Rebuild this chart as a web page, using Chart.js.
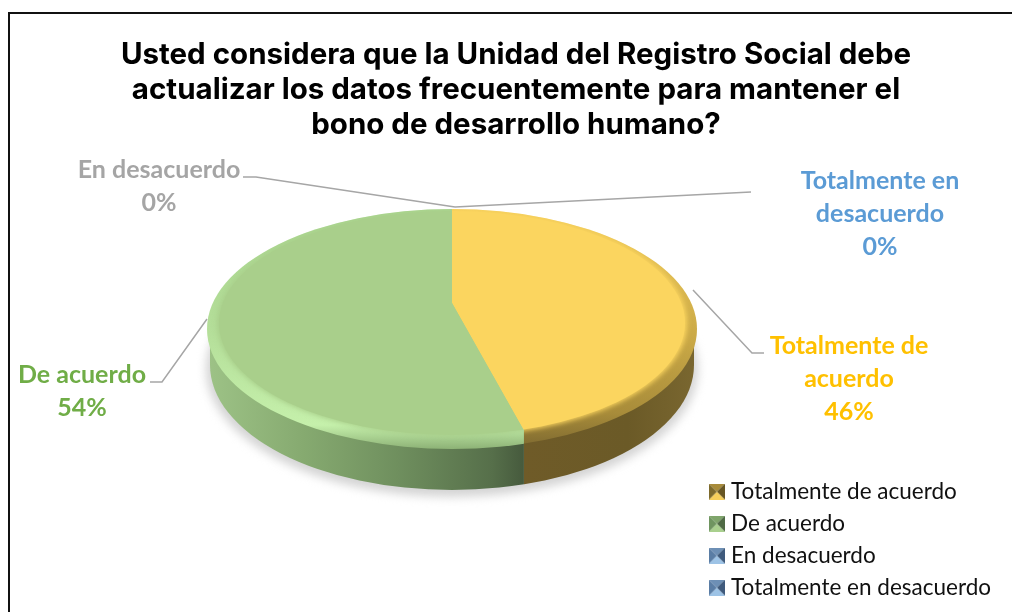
<!DOCTYPE html>
<html lang="es">
<head>
<meta charset="utf-8">
<title>Registro Social</title>
<script src="https://cdn.jsdelivr.net/npm/chart.js@4"></script>
<style>
    html, body { margin: 0; padding: 0; background: #fff; overflow: hidden; }
    #wrap { width: 1012px; height: 612px; }
</style>
</head>
<body>
<div id="wrap"><canvas id="pieChart" width="1012" height="612"></canvas></div>
<script>
// Chart data
const categories = ['Totalmente de acuerdo', 'De acuerdo', 'En desacuerdo', 'Totalmente en desacuerdo'];
const values = [46, 54, 0, 0];
const titleLines = [
    'Usted considera que la Unidad del Registro Social debe',
    'actualizar los datos frecuentemente para mantener el',
    'bono de desarrollo humano?'
];

// Colours
const sliceColors = ['#FBD55F', '#A9CF8B', '#9DC3E6', '#9DC3E6'];
const labelColors = ['#FFC000', '#70AD47', '#A5A5A5', '#5B9BD5'];
const iconColors = [
    ['#A88B3A', '#7D6A2C', '#675624', '#F7CF5B'],
    ['#7FA56B', '#6F9560', '#4F6A45', '#A9D08E'],
    ['#6D8FB5', '#5A7DA5', '#3F5A7C', '#9DC3E6'],
    ['#6D8FB5', '#5A7DA5', '#3F5A7C', '#9DC3E6']
];

// Label text lines and where they sit, leader line for each label
const labelLines = [['Totalmente de', 'acuerdo'], ['De acuerdo'], ['En desacuerdo'], ['Totalmente en', 'desacuerdo']];
const labelCenters = [[849, 346], [82, 375], [159, 170], [880, 181]];
const leaderLines = [
    [[693, 290], [752, 353], [764, 353]],
    [[207, 319], [162, 382], [150, 382]],
    [[243, 177], [256, 177], [455, 207]],
    [[455, 207], [751, 192]]
];

// Tilted pie geometry (ellipses on the page)
const face = { x: 452, y: 323, rx: 235, ry: 113 };
const rim = { x: 452, y: 329, rx: 245, ry: 120 };
const base = { x: 452, y: 365, rx: 242, ry: 125 };
const hub = { x: 452, y: 303, sx: 320, sy: 145.7 };

function ellipsePath(ctx, e) {
    ctx.beginPath();
    ctx.ellipse(e.x, e.y, e.rx, e.ry, 0, 0, Math.PI * 2);
}

// Where the slice border leaves the top face
function borderPoint(angle) {
    const dx = Math.cos(angle) * hub.sx;
    const dy = Math.sin(angle) * hub.sy;
    let t = 0;
    while (t < 1 && Math.pow((hub.x + t * dx - face.x) / face.rx, 2) + Math.pow((hub.y + t * dy - face.y) / face.ry, 2) < 1) {
        t += 0.002;
    }
    return { x: hub.x + t * dx, y: hub.y + t * dy };
}

// side: 0 = right part of the pie, 1 = left part
function clipSide(ctx, side, splitX) {
    ctx.beginPath();
    if (side === 0) {
        ctx.rect(hub.x, 0, 1012 - hub.x, hub.y);
        ctx.rect(splitX, hub.y, 1012 - splitX, 612 - hub.y);
    } else {
        ctx.rect(0, 0, hub.x, hub.y);
        ctx.rect(0, hub.y, splitX, 612 - hub.y);
    }
    ctx.clip();
}

function gradient(ctx, x0, y0, x1, y1, stops) {
    const g = ctx.createLinearGradient(x0, y0, x1, y1);
    stops.forEach(s => g.addColorStop(s[0], s[1]));
    return g;
}

// Shadow, side wall and bevel under the slices
const pieBody = {
    id: 'pieBody',
    beforeDatasetsDraw(chart) {
        const ctx = chart.ctx;
        const arc = chart.getDatasetMeta(0).data[0];
        const splitX = borderPoint(arc.endAngle).x;

        ctx.save();
        ctx.filter = 'blur(5px)';
        ctx.fillStyle = '#D4D4D4';
        ellipsePath(ctx, { x: 452, y: 369, rx: 246, ry: 128 });
        ctx.fill();
        ctx.restore();

        // Wall
        [0, 1].forEach(side => {
            ctx.save();
            clipSide(ctx, side, splitX);
            ctx.fillStyle = side === 0
                ? gradient(ctx, splitX, 0, 697, 0, [[0, '#6F5B28'], [0.6, '#6B5A27'], [1, '#7A6730']])
                : gradient(ctx, 209, 0, splitX, 0, [[0, '#9DC286'], [0.3, '#86AA70'], [0.6, '#6F8F5E'], [0.9, '#566F4A'], [1, '#465A3D']]);
            ellipsePath(ctx, base);
            ctx.fill();
            ctx.beginPath();
            ctx.rect(base.x - base.rx, rim.y, base.rx * 2, base.y - rim.y);
            ctx.fill();
            ctx.restore();
        });

        // Bevel
        [0, 1].forEach(side => {
            ctx.save();
            clipSide(ctx, side, splitX);
            ctx.fillStyle = side === 0
                ? gradient(ctx, 0, 209, 0, 449, [[0, '#F4CE5B'], [0.55, '#C9A846'], [0.85, '#A88C3A'], [1, '#7C6830']])
                : gradient(ctx, 0, 209, 0, 449, [[0, '#AAD68F'], [0.5, '#B4DE99'], [0.9, '#C5F0AB'], [1, '#8DB276']]);
            ellipsePath(ctx, rim);
            ctx.fill();
            ctx.restore();
        });

        // Soft edge of the top face, kept inside the rim
        [0, 1].forEach(side => {
            ctx.save();
            ellipsePath(ctx, rim);
            ctx.clip();
            clipSide(ctx, side, splitX);
            ctx.filter = 'blur(2.5px)';
            ctx.fillStyle = sliceColors[side];
            ellipsePath(ctx, face);
            ctx.fill();
            ctx.restore();
        });

        // Slices are squashed onto the top face
        const k = arc.outerRadius;
        ctx.save();
        ellipsePath(ctx, { x: face.x, y: face.y, rx: face.rx - 2, ry: face.ry - 1 });
        ctx.clip();
        ctx.translate(hub.x, hub.y);
        ctx.scale(hub.sx / k, hub.sy / k);
        ctx.translate(-arc.x, -arc.y);
    },
    afterDatasetsDraw(chart) {
        chart.ctx.restore();
    }
};

// Frame, leader lines and data labels
const pieLabels = {
    id: 'pieLabels',
    afterDraw(chart) {
        const ctx = chart.ctx;
        const total = values.reduce((a, b) => a + b, 0);
        ctx.save();

        // Frame is open on the right and at the bottom
        ctx.strokeStyle = '#111';
        ctx.lineWidth = 2;
        ctx.beginPath();
        ctx.moveTo(9, 612);
        ctx.lineTo(9, 13);
        ctx.lineTo(1012, 13);
        ctx.stroke();

        ctx.strokeStyle = '#A6A6A6';
        ctx.lineWidth = 1.5;
        leaderLines.forEach(points => {
            ctx.beginPath();
            points.forEach((p, i) => i ? ctx.lineTo(p[0], p[1]) : ctx.moveTo(p[0], p[1]));
            ctx.stroke();
        });

        ctx.font = 'bold 25px Lato';
        ctx.textAlign = 'center';
        ctx.textBaseline = 'middle';
        categories.forEach((name, i) => {
            const lines = labelLines[i].concat(Math.round(values[i] / total * 100) + '%');
            ctx.fillStyle = labelColors[i];
            lines.forEach((line, j) => ctx.fillText(line, labelCenters[i][0], labelCenters[i][1] + j * 33));
        });
        ctx.restore();
    }
};

// Legend marker with the four bevelled sides
function makeIcon(colors) {
    const s = 16;
    const icon = document.createElement('canvas');
    icon.width = s;
    icon.height = s;
    const c = icon.getContext('2d');
    const corners = [[0, 0], [s, 0], [s, s], [0, s]];
    // top, right, bottom, left
    [[0, 1, colors[0]], [1, 2, colors[2]], [2, 3, colors[3]], [3, 0, colors[1]]].forEach(t => {
        c.fillStyle = t[2];
        c.beginPath();
        c.moveTo(corners[t[0]][0], corners[t[0]][1]);
        c.lineTo(corners[t[1]][0], corners[t[1]][1]);
        c.lineTo(s / 2, s / 2);
        c.closePath();
        c.fill();
    });
    return icon;
}

new Chart(document.getElementById('pieChart'), {
    type: 'pie',
    data: {
        labels: categories,
        datasets: [{
            data: values,
            backgroundColor: sliceColors,
            borderWidth: 0
        }]
    },
    plugins: [pieBody, pieLabels],
    options: {
        responsive: false,
        animation: false,
        layout: { padding: { left: 31, right: 11, bottom: 3.5 } },
        plugins: {
            title: {
                display: true,
                text: titleLines,
                color: '#000',
                font: { family: 'Inter', size: 29.5, weight: 'bold', lineHeight: 1.2 },
                padding: { top: 37, bottom: 10 }
            },
            tooltip: { enabled: false },
            legend: {
                position: 'right',
                align: 'end',
                labels: {
                    color: '#111',
                    font: { family: 'Lato', size: 22.5 },
                    usePointStyle: true,
                    pointStyleWidth: 6,
                    padding: 9.5,
                    generateLabels: () => categories.map((name, i) => ({
                        text: name,
                        pointStyle: makeIcon(iconColors[i]),
                        fontColor: '#111',
                        index: i
                    }))
                }
            }
        }
    }
});
</script>
</body>
</html>
